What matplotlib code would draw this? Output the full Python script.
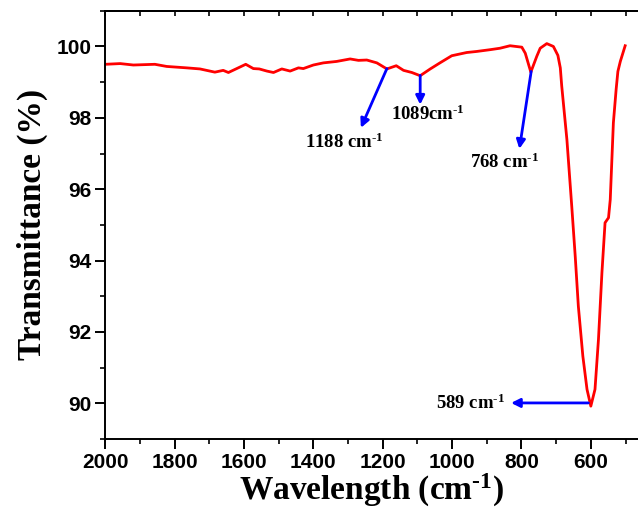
import matplotlib
matplotlib.use("Agg")
import matplotlib.pyplot as plt
from matplotlib.ticker import MultipleLocator

plt.rcParams['mathtext.fontset'] = 'custom'
plt.rcParams['mathtext.rm'] = 'Liberation Serif:bold'
plt.rcParams['mathtext.it'] = 'Liberation Serif:bold'
plt.rcParams['mathtext.bf'] = 'Liberation Serif:bold'

wavenumber = [2000, 1957, 1919, 1857, 1823, 1765, 1727, 1684, 1660, 1645, 1621, 1595,
              1573, 1556, 1534, 1515, 1491, 1467, 1443, 1429, 1400, 1371, 1333, 1294,
              1270, 1246, 1217, 1188, 1161, 1140, 1116, 1092, 1063, 1035, 1001, 958,
              929, 890, 862, 833, 799, 789, 773, 756, 746, 727, 708, 695, 688, 684,
              669, 655, 645, 636, 623, 611, 600, 588, 578, 568, 559, 549, 544, 535,
              527, 522, 515, 501]
transmittance = [99.50, 99.52, 99.48, 99.50, 99.44, 99.40, 99.37, 99.28, 99.33, 99.27,
                 99.38, 99.50, 99.38, 99.37, 99.31, 99.27, 99.37, 99.31, 99.40, 99.38,
                 99.48, 99.54, 99.58, 99.65, 99.61, 99.62, 99.54, 99.37, 99.46, 99.33,
                 99.27, 99.18, 99.37, 99.54, 99.74, 99.83, 99.86, 99.91, 99.95, 100.02,
                 99.98, 99.81, 99.28, 99.72, 99.95, 100.08, 100.00, 99.75, 99.40, 98.90,
                 97.39, 95.52, 94.12, 92.72, 91.32, 90.39, 89.92, 90.39, 91.79, 93.66,
                 95.06, 95.20, 95.71, 97.86, 98.80, 99.30, 99.58, 100.02]

# annotations: label, arrow start (x, y), arrow tip (x, y), text anchor (x, y)
ann_labels = [r'1188 cm$^{\text{-1}}$', r'1089cm$^{\text{-1}}$', r'768 cm$^{\text{-1}}$',
              r'589 cm$^{\text{-1}}$']
ann_start = [(1188, 99.38), (1092, 99.19), (772, 99.30), (607, 90.01)]
ann_tip = [(1263, 97.72), (1092, 98.37), (806, 97.13), (830, 90.01)]
ann_text = [(1424, 97.16), (1176, 97.93), (948, 96.60), (1046, 89.85)]

fig = plt.figure(figsize=(6.38, 5.13), dpi=100)
ax = fig.add_axes([0.165, 0.1443, 0.835, 0.8347])

ax.plot(wavenumber, transmittance, color='#ff0000', lw=2.0)

for lab, s, t, p in zip(ann_labels, ann_start, ann_tip, ann_text):
    ax.annotate('', xy=t, xytext=s,
                arrowprops=dict(arrowstyle='-|>', color='#0000ff', lw=2.0,
                                mutation_scale=13, shrinkA=0, shrinkB=0))
    ax.text(p[0], p[1], lab, ha='left', va='baseline', fontsize=13.5,
            family='Liberation Serif', fontweight='bold', color='black')

ax.set_xlim(2000, 464)
ax.set_ylim(89, 101)
ax.xaxis.set_major_locator(MultipleLocator(200))
ax.xaxis.set_minor_locator(MultipleLocator(100))
ax.yaxis.set_major_locator(MultipleLocator(2))
ax.yaxis.set_minor_locator(MultipleLocator(1))

ax.spines['right'].set_visible(False)
for sp in ax.spines.values():
    sp.set_linewidth(1.4)

ax.tick_params(which='major', direction='out', length=7, width=1.4, pad=3)
ax.tick_params(which='minor', direction='out', length=3.5, width=1.2)
for lbl in ax.get_xticklabels() + ax.get_yticklabels():
    lbl.set_family('Liberation Sans')
    lbl.set_fontweight('bold')
    lbl.set_fontsize(15)

sec = ax.secondary_xaxis('top')
sec.xaxis.set_major_locator(MultipleLocator(100))
sec.tick_params(which='major', direction='in', length=3.5, width=1.2, labeltop=False)
sec.spines['top'].set_linewidth(1.4)

ax.set_xlabel(r'Wavelength (cm$^{\text{-1}}$)', family='Liberation Serif', fontweight='bold',
              fontsize=24, labelpad=0)
ax.set_ylabel('Transmittance (%)', family='Liberation Serif', fontweight='bold',
              fontsize=24, labelpad=6)

fig.savefig('out.png', dpi=100)
